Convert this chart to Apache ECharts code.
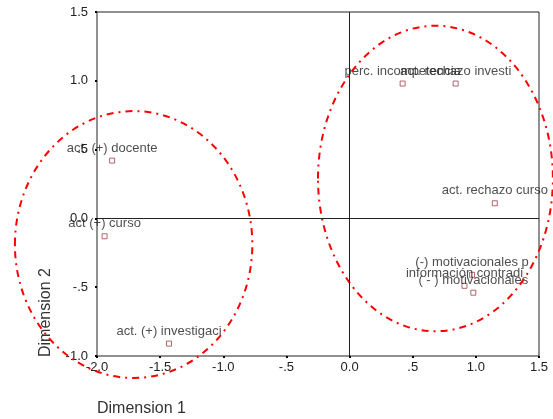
<!DOCTYPE html>
<html>
<head>
<meta charset="utf-8">
<script src="https://cdn.jsdelivr.net/npm/echarts@6/dist/echarts.min.js"></script>
<style>
  html, body { margin: 0; padding: 0; background: #fff; }
  #main { width: 553px; height: 419px; }
</style>
</head>
<body>
<div id="main"></div>
<script>
// category points (dimension 1, dimension 2)
var names = ['act. (+) docente', 'perc. incompetencia', 'act. rechazo investi', 'act. rechazo curso',
             'act (+) curso', 'act. (+) investigaci', '(-) motivacionales p', 'información contradi',
             '( - ) motivacionales'];
var dim1 = [-1.88, 0.42, 0.84, 1.15, -1.94, -1.43, 0.97, 0.91, 0.98];
var dim2 = [0.42, 0.98, 0.98, 0.11, -0.13, -0.91, -0.41, -0.49, -0.54];
// grouping ellipses: [centre x, centre y, radius x, radius y] in dimension units
var groups = [[-1.71, -0.19, 0.94, 0.97], [0.68, 0.29, 0.93, 1.11]];
var xTicks = [-2, 1.5, 0.5];
var yTicks = [-1, 1.5, 0.5];

var font = 'Arial, "Liberation Sans", sans-serif';

function fmt(v) {
    var s = v.toFixed(1);
    if (s === '0.0') return s;
    return s.replace(/^(-?)0\./, '$1.');
}

var points = names.map(function (n, i) { return { name: n, value: [dim1[i], dim2[i]] }; });

var chart = echarts.init(document.getElementById('main'));
chart.setOption({
    animation: false,
    grid: {
        left: 97, right: 14, top: 12, bottom: 63,
        show: true, borderColor: '#222', borderWidth: 1
    },
    xAxis: {
        type: 'value', min: xTicks[0], max: xTicks[1], interval: xTicks[2],
        axisLine: { show: false, onZero: false },
        axisTick: { show: true, length: 2, lineStyle: { color: '#000', width: 2 } },
        splitLine: { show: false },
        axisLabel: { formatter: fmt, color: '#222', fontFamily: font, fontSize: 13, margin: 5 }
    },
    yAxis: {
        type: 'value', min: yTicks[0], max: yTicks[1], interval: yTicks[2],
        axisLine: { show: false, onZero: false },
        axisTick: { show: true, length: 2, lineStyle: { color: '#000', width: 2 } },
        splitLine: { show: false },
        axisLabel: { formatter: fmt, color: '#222', fontFamily: font, fontSize: 13, margin: 9 }
    },
    graphic: [
        { type: 'text', left: 97, top: 401,
          style: { text: 'Dimension 1', font: '16px ' + font, fill: '#333' } },
        { type: 'text', x: 38, y: 357, rotation: Math.PI / 2,
          style: { text: 'Dimension 2', font: '16px ' + font, fill: '#333' } }
    ],
    series: [
        {
            type: 'scatter',
            data: points,
            symbol: 'rect',
            symbolSize: 5,
            itemStyle: { color: '#fff', borderColor: '#a0404a', borderWidth: 1 },
            label: {
                show: true, position: 'top', distance: 3,
                formatter: '{b}', color: '#222', fontFamily: font, fontSize: 13
            },
            labelLayout: { hideOverlap: false },
            markLine: {
                silent: true, symbol: 'none', animation: false,
                label: { show: false },
                lineStyle: { color: '#222', width: 1, type: 'solid' },
                data: [{ xAxis: 0 }, { yAxis: 0 }]
            },
            z: 3
        },
        {
            type: 'custom',
            data: groups,
            clip: false,
            silent: true,
            z: 4,
            renderItem: function (params, api) {
                var c = api.coord([api.value(0), api.value(1)]);
                var s = api.size([api.value(2), api.value(3)]);
                return {
                    type: 'ellipse',
                    shape: { cx: c[0], cy: c[1], rx: s[0], ry: s[1] },
                    style: { fill: null, stroke: '#ff0000', lineWidth: 2, lineDash: [7, 5, 2, 5] }
                };
            }
        }
    ]
});
</script>
</body>
</html>
